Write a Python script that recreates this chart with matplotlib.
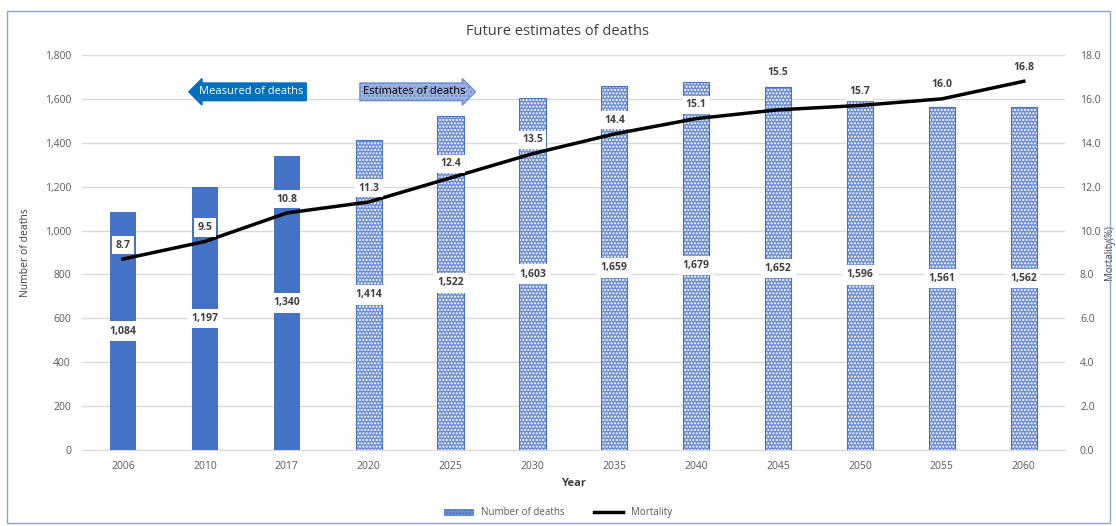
import numpy as np
import matplotlib.pyplot as plt
from matplotlib.patches import Rectangle, Patch
from matplotlib.lines import Line2D

plt.rcParams['font.family'] = ['Open Sans', 'DejaVu Sans']
plt.rcParams['hatch.color'] = 'white'
plt.rcParams['hatch.linewidth'] = 1.0

# data
years = ['2006', '2010', '2017', '2020', '2025', '2030', '2035', '2040',
         '2045', '2050', '2055', '2060']
deaths = [1084, 1197, 1340, 1414, 1522, 1603, 1659, 1679, 1652, 1596, 1561, 1562]
mortality = [8.7, 9.5, 10.8, 11.3, 12.4, 13.5, 14.4, 15.1, 15.5, 15.7, 16.0, 16.8]
n_measured = 3

blue = '#4472C4'
light = '#6F8FD4'
text_col = '#595959'

fig = plt.figure(figsize=(11.16, 5.26), dpi=100)
ax = fig.add_axes([0.0735, 0.1445, 0.8805, 0.751])
ax2 = ax.twinx()

x = np.arange(len(years))
w = 0.32

# measured bars (solid) and estimate bars (dotted pattern)
ax.bar(x[:n_measured], deaths[:n_measured], w, color=blue, zorder=2)
ax.bar(x[n_measured:], deaths[n_measured:], w, color=light, hatch='.....',
       zorder=2)
ax.bar(x[n_measured:], deaths[n_measured:], w, fill=False, edgecolor=blue,
       linewidth=0.8, zorder=2)

for xi, d in zip(x, deaths):
    ax.text(xi, d / 2, f'{d:,}', ha='center', va='center', fontsize=7.5,
            fontweight='bold', color='#404040', zorder=5,
            bbox=dict(boxstyle='square,pad=0.4', fc='white', ec='none'))

ax.set_xlim(-0.5, len(years) - 0.5)
ax.set_ylim(0, 1800)
ax.set_yticks(np.arange(0, 1801, 200))
ax.yaxis.set_major_formatter(plt.FuncFormatter(lambda v, p: f'{int(v):,}'))
ax.set_xticks(x)
ax.set_xticklabels(years)
ax.grid(axis='y', color='#D9D9D9', linewidth=1, zorder=0)
ax.set_axisbelow(True)
ax.tick_params(length=0, labelsize=7.5, labelcolor=text_col, pad=8)
for s in ['top', 'left', 'right']:
    ax.spines[s].set_visible(False)
ax.spines['bottom'].set_color('#D9D9D9')
ax.set_xlabel('Year', fontsize=8, fontweight='bold', color='#404040', labelpad=4)
ax.set_ylabel('Number of deaths', fontsize=7.5, color='#404040', labelpad=10)

# mortality line
ax2.plot(x, mortality, color='black', linewidth=2.5, zorder=4)
for i, (xi, m) in enumerate(zip(x, mortality)):
    off = 27 if i == 8 else 10
    ax2.annotate(f'{m:.1f}', (xi, m), xytext=(0, off), textcoords='offset points',
                 ha='center', va='center', fontsize=7.5, fontweight='bold',
                 color='#404040', zorder=6,
                 bbox=dict(boxstyle='square,pad=0.35', fc='white', ec='none'))
ax2.set_ylim(0, 18)
ax2.set_yticks(np.arange(0, 18.1, 2))
ax2.yaxis.set_major_formatter(plt.FuncFormatter(lambda v, p: f'{v:.1f}'))
ax2.tick_params(length=0, labelsize=7.5, labelcolor=text_col, pad=11)
for s in ax2.spines.values():
    s.set_visible(False)
ax2.set_ylabel('Mortality(%)', fontsize=7, color='#404040', rotation=90)
ax2.yaxis.set_label_coords(1.04, 0.5)

# arrows marking measured / estimated periods
ax.text(1.56, 1632, 'Measured of deaths', ha='center', va='center', fontsize=8,
        color='white', zorder=6,
        bbox=dict(boxstyle='larrow,pad=0.3', fc='#0070C0', ec='#0070C0'))
ax.text(3.56, 1632, 'Estimates of deaths', ha='center', va='center', fontsize=8,
        color='black', zorder=6,
        bbox=dict(boxstyle='rarrow,pad=0.3', fc='#9DB4E0', ec='#6F8FD4',
                  hatch='....'))

fig.suptitle('Future estimates of deaths', y=0.955, fontsize=10.5,
             color='#404040')

handles = [Patch(facecolor=light, hatch='.....', edgecolor=blue, linewidth=0.5),
           Line2D([0], [0], color='black', linewidth=2.5)]
fig.legend(handles, ['Number of deaths', 'Mortality'], loc='center',
           bbox_to_anchor=(0.5, 0.025), ncol=2, frameon=False, fontsize=7,
           labelcolor=text_col, handlelength=3, columnspacing=3)

fig.patches.append(Rectangle((7 / 1116, 3 / 526), 1103 / 1116, 512 / 526,
                             transform=fig.transFigure, fill=False,
                             edgecolor='#8EA4CC', linewidth=1))

fig.savefig('out.png', dpi=100)
